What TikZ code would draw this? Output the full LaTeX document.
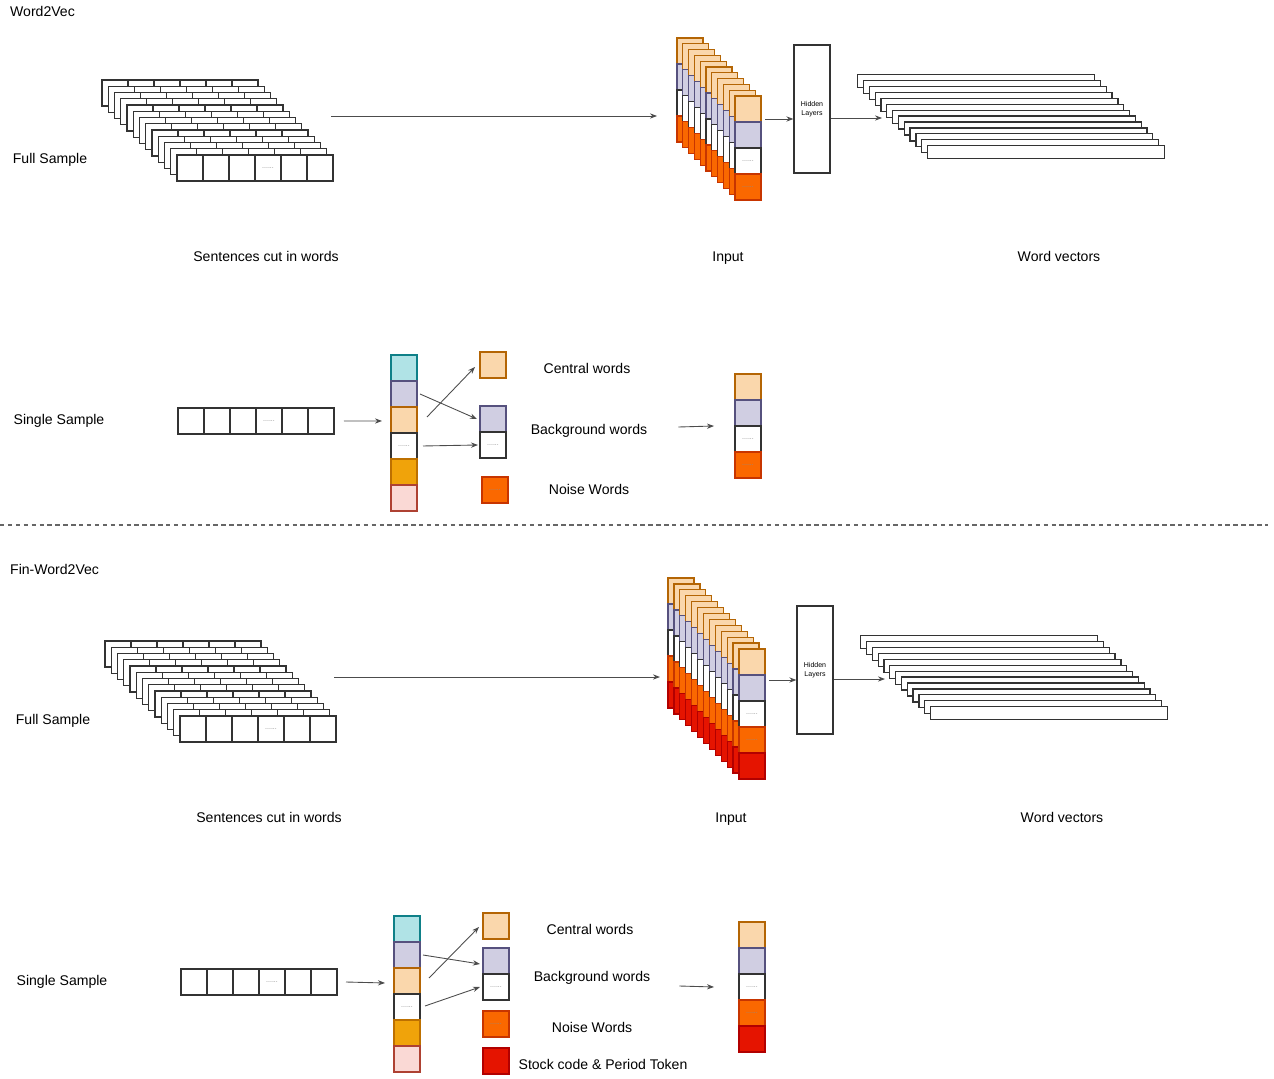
\documentclass[tikz,border=0pt]{standalone}
\usepackage{fontspec}
\setmainfont{Liberation Sans}
\usetikzlibrary{arrows.meta,positioning,calc}
\definecolor{cwFill}{HTML}{FAD7AC}\definecolor{cwDraw}{HTML}{B46504}
\definecolor{bgFill}{HTML}{D0CEE2}\definecolor{bgDraw}{HTML}{56517E}
\definecolor{nwFill}{HTML}{FA6800}\definecolor{nwDraw}{HTML}{C73500}
\definecolor{skFill}{HTML}{E51400}\definecolor{skDraw}{HTML}{B20000}
\definecolor{tlFill}{HTML}{B0E3E6}\definecolor{tlDraw}{HTML}{0E8088}
\definecolor{amFill}{HTML}{F0A30A}\definecolor{amDraw}{HTML}{BD7000}
\definecolor{pkFill}{HTML}{FAD9D5}\definecolor{pkDraw}{HTML}{AE4132}
\newcommand{\wdots}{{\fontsize{4}{4}\selectfont\color{black!45}......}}

\begin{document}
\begin{tikzpicture}[x=0.02cm, y=-0.02cm, font=\fontsize{8}{9.6}\selectfont,
  cell/.style={draw=black!80, fill=white, line width=0.7pt, minimum width=0.52cm,
    minimum height=0.52cm, inner sep=0pt, outer sep=0pt, anchor=north west},
  cw/.style={cell, fill=cwFill, draw=cwDraw},
  bg/.style={cell, fill=bgFill, draw=bgDraw},
  nw/.style={cell, fill=nwFill, draw=nwDraw},
  sk/.style={cell, fill=skFill, draw=skDraw},
  tl/.style={cell, fill=tlFill, draw=tlDraw},
  am/.style={cell, fill=amFill, draw=amDraw},
  pk/.style={cell, fill=pkFill, draw=pkDraw},
  bar/.style={draw=black!80, fill=white, line width=0.7pt, minimum width=4.74cm,
    minimum height=0.26cm, inner sep=0pt, anchor=north west},
  hidbox/.style={draw=black!80, line width=0.7pt, minimum width=0.72cm,
    minimum height=2.56cm, align=center, font=\fontsize{4}{5}\selectfont},
  arr/.style={-{Stealth[length=4pt,width=3pt]}, draw=black!70, line width=0.5pt}]

\useasboundingbox (0,0) rectangle (1274,1078);

% ---------------- Word2Vec ----------------
\node[anchor=west] (t-title) at (4,11) {Word2Vec};
% sentences cut in words
\foreach \i in {0,...,12}
  \foreach \k in {0,...,5}
    \node[cell] (t-s\i-\k) at ({102+6.25*\i+26*\k},{80+6.25*\i}) {};
\node (t-sdots) at (t-s12-3) {\wdots};
% input stack
\foreach \i in {0,...,10} {
  \node[cw] (t-i\i-0) at ({677+5.8*\i},{38+5.8*\i}) {};
  \node[bg, below=0pt of t-i\i-0] (t-i\i-1) {};
  \node[cell, below=0pt of t-i\i-1] (t-i\i-2) {};
  \node[nw, below=0pt of t-i\i-2] (t-i\i-3) {};
}
\node (t-idots2) at (t-i10-2) {\wdots};
\node (t-idots3) at (t-i10-3) {\wdots};
\node[hidbox] (t-hid) at (812,109) {Hidden\\Layers};
% word vectors
\foreach \i in {0,...,12}
  \node[bar] (t-w\i) at ({857+5.83*\i},{74+5.92*\i}) {};
\node (t-full) at (50,160) {Full Sample};
\node (t-sent) at (266,256) {Sentences cut in words};
\node (t-in) at (728,258) {Input};
\node (t-wv) at (1059,256) {Word vectors};
\coordinate (t-from) at (331,116);
\coordinate (t-to) at (657,116);
\coordinate (t-wvin) at (882,118);
\draw[arr] (t-from) -- (t-to);
\draw[arr] ([shift={(4,-3)}]t-i10-1.north east) coordinate (t-a) -- (t-a -| t-hid.west);
\draw[arr] (t-hid.east |- t-wvin) -- (t-wvin);

% single sample
\node (t-single) at (59,421) {Single Sample};
\foreach \k in {0,...,5}
  \node[cell] (t-r\k) at ({178+26*\k},408) {};
\node (t-rdots) at (t-r3) {\wdots};
\node[tl] (t-c0) at (391,355) {};
\node[bg, below=0pt of t-c0] (t-c1) {};
\node[cw, below=0pt of t-c1] (t-c2) {};
\node[cell, below=0pt of t-c2] (t-c3) {\wdots};
\node[am, below=0pt of t-c3] (t-c4) {};
\node[pk, below=0pt of t-c4] (t-c5) {};
\node[cw] (t-cw) at (480,352) {};
\node[bg] (t-bg) at (480,406) {};
\node[cell, below=0pt of t-bg] (t-bgw) {\wdots};
\node[nw] (t-nw) at (482,477) {\wdots};
\node (t-cwl) at (587,368) {Central words};
\node (t-bgl) at (589,431) {Background words};
\node (t-nwl) at (589,489) {Noise Words};
\node[cw] (t-o0) at (735,374) {};
\node[bg, below=0pt of t-o0] (t-o1) {};
\node[cell, below=0pt of t-o1] (t-o2) {\wdots};
\node[nw, below=0pt of t-o2] (t-o3) {\wdots};
\draw[arr] ([shift={(10,0)}]t-r5.east) -- ([shift={(-9,1)}]t-c2.west);
\draw[arr] ([shift={(10,-3)}]t-c2.east) -- ([shift={(-5,2)}]t-cw.west);
\draw[arr] ([shift={(3,0)}]t-c1.east) -- ([shift={(-3,0)}]t-bg.west);
\draw[arr] ([shift={(6,0)}]t-c3.east) -- ([shift={(-2,0)}]t-bgw.west);
\draw[arr] ([shift={(25,-4)}]t-bgl.east) -- ([shift={(-21,0)}]t-o1.south west);

% separator
\coordinate (sepL) at (0,525);
\coordinate (sepR) at (1268,525);
\draw[black!60, line width=0.6pt, dash pattern=on 2.5pt off 2pt] (sepL) -- (sepR);

% ---------------- Fin-Word2Vec ----------------
\node[anchor=west] (b-title) at (4,569) {Fin-Word2Vec};
% input stack
\foreach \i in {0,...,12} {
  \node[cw] (b-i\i-0) at ({668+5.917*\i},{578+5.917*\i}) {};
  \node[bg, below=0pt of b-i\i-0] (b-i\i-1) {};
  \node[cell, below=0pt of b-i\i-1] (b-i\i-2) {};
  \node[nw, below=0pt of b-i\i-2] (b-i\i-3) {};
  \node[sk, below=0pt of b-i\i-3] (b-i\i-4) {};
}
\node (b-idots2) at (b-i12-2) {\wdots};
\node (b-idots3) at (b-i12-3) {\wdots};
\begin{scope}[shift={(3,561)}]
  % sentences cut in words
  \foreach \i in {0,...,12}
    \foreach \k in {0,...,5}
      \node[cell] (b-s\i-\k) at ({102+6.25*\i+26*\k},{80+6.25*\i}) {};
  \node (b-sdots) at (b-s12-3) {\wdots};
  \node[hidbox] (b-hid) at (812,109) {Hidden\\Layers};
  % word vectors
  \foreach \i in {0,...,12}
    \node[bar] (b-w\i) at ({857+5.83*\i},{74+5.92*\i}) {};
  \node (b-full) at (50,160) {Full Sample};
  \node (b-sent) at (266,256) {Sentences cut in words};
  \node (b-in) at (728,258) {Input};
  \node (b-wv) at (1059,256) {Word vectors};
  \coordinate (b-from) at (331,116);
  \coordinate (b-to) at (657,116);
  \coordinate (b-wvin) at (882,118);
  \draw[arr] (b-from) -- (b-to);
  \draw[arr] (b-hid.east |- b-wvin) -- (b-wvin);
\end{scope}
\draw[arr] ([shift={(4,5)}]b-i12-0.south east) coordinate (b-a) -- (b-a -| b-hid.west);

% single sample
\node (b-single) at (62,982) {Single Sample};
\foreach \k in {0,...,5}
  \node[cell] (b-r\k) at ({181+26*\k},969) {};
\node (b-rdots) at (b-r3) {\wdots};
\node[tl] (b-c0) at (394,916) {};
\node[bg, below=0pt of b-c0] (b-c1) {};
\node[cw, below=0pt of b-c1] (b-c2) {};
\node[cell, below=0pt of b-c2] (b-c3) {\wdots};
\node[am, below=0pt of b-c3] (b-c4) {};
\node[pk, below=0pt of b-c4] (b-c5) {};
\node[cw] (b-cw) at (483,913) {};
\node[bg] (b-bg) at (483,948) {};
\node[cell, below=0pt of b-bg] (b-bgw) {\wdots};
\node[nw] (b-nw) at (483,1011) {\wdots};
\node[sk] (b-sk) at (483,1048) {};
\node (b-cwl) at (590,929) {Central words};
\node (b-bgl) at (592,978) {Background words};
\node (b-nwl) at (592,1027) {Noise Words};
\node (b-skl) at (603,1064) {Stock code \& Period Token};
\node[cw] (b-o0) at (739,922) {};
\node[bg, below=0pt of b-o0] (b-o1) {};
\node[cell, below=0pt of b-o1] (b-o2) {\wdots};
\node[nw, below=0pt of b-o2] (b-o3) {\wdots};
\node[sk, below=0pt of b-o3] (b-o4) {};
\draw[arr] ([shift={(9,0)}]b-r5.east) -- ([shift={(-9,2)}]b-c2.west);
\draw[arr] ([shift={(9,-3)}]b-c2.east) -- ([shift={(-4,1)}]b-cw.west);
\draw[arr] ([shift={(3,0)}]b-c1.east) -- ([shift={(-3,3)}]b-bg.west);
\draw[arr] ([shift={(5,-1)}]b-c3.east) -- ([shift={(-3,0)}]b-bgw.west);
\draw[arr] ([shift={(23,8)}]b-bgl.east) -- ([shift={(-25,0)}]b-o2.west);
\end{tikzpicture}
\end{document}
